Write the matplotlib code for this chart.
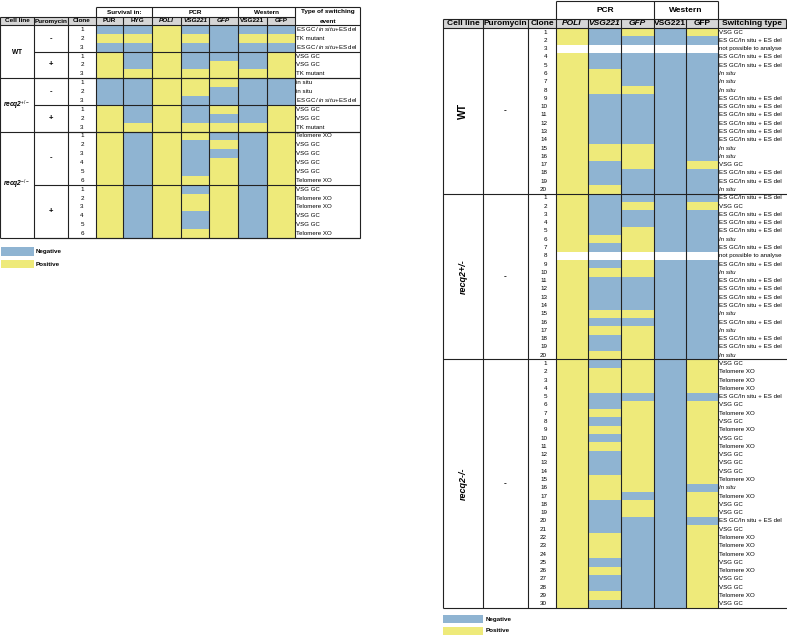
import numpy as np
import matplotlib
matplotlib.use("Agg")
import matplotlib.pyplot as plt
from matplotlib.colors import ListedColormap
from matplotlib.patches import Rectangle

plt.rcParams["font.family"] = ["Liberation Sans", "DejaVu Sans"]
plt.rcParams["mathtext.fontset"] = "custom"
plt.rcParams["mathtext.rm"] = "Liberation Sans"
plt.rcParams["mathtext.it"] = "Liberation Sans:italic"
plt.rcParams["mathtext.bf"] = "Liberation Sans:bold"
plt.rcParams["mathtext.bfit"] = "Liberation Sans:bold:italic"

BLUE = "#8fb4d2"
YELLOW = "#eeea7a"
GRAY = "#d6d6d6"
LINE = "#222222"

# ---------------- left table data (N = negative, P = positive) ----------------
left_cols = ["PUR", "HYG", "POLI", "VSG221", "GFP", "VSG221", "GFP"]
left_groups = ["WT", "recq2+/-", "recq2-/-"]
left_puro = ["-", "+", "-", "+", "-", "+"]
left_clones = [1, 2, 3, 1, 2, 3, 1, 2, 3, 1, 2, 3,
               1, 2, 3, 4, 5, 6, 1, 2, 3, 4, 5, 6]
left_results = [
    "NNPNNNN", "PPPPNPP", "NNPNNNN",
    "PNPNNNP", "PNPNPNP", "PPPPPPP",
    "NNPPPNN", "NNPPNNN", "NNPNNNN",
    "PNPNPNP", "PNPNNNP", "PPPPPPP",
    "PNPPNNP", "PNPNPNP", "PNPNNNP", "PNPNPNP", "PNPNPNP", "PNPPPNP",
    "PNPNPNP", "PNPPPNP", "PNPPPNP", "PNPNPNP", "PNPNPNP", "PNPPPNP",
]
ES_L = r"ES GC/ $\mathit{in\ situ}$+ES del"
left_types = [ES_L, "TK mutant", ES_L, "VSG GC", "VSG GC", "TK mutant",
              "in situ", "in situ", ES_L, "VSG GC", "VSG GC", "TK mutant",
              "Telomere XO", "VSG GC", "VSG GC", "VSG GC", "VSG GC", "Telomere XO",
              "VSG GC", "Telomere XO", "Telomere XO", "VSG GC", "VSG GC", "Telomere XO"]

# ---------------- right table data ----------------
right_cols = ["POLI", "VSG221", "GFP", "VSG221", "GFP"]
right_groups = ["WT", "recq2+/-", "recq2-/-"]
right_sizes = [20, 20, 30]
right_results = [
    # WT
    "PNPNP", "PNNNN", "-----", "PNNNN", "PNNNN", "PPNNN", "PPNNN", "PPPNN",
    "PNNNN", "PNNNN", "PNNNN", "PNNNN", "PNNNN", "PNNNN", "PPPNN", "PPPNN",
    "PNPNP", "PNNNN", "PNNNN", "PPNNN",
    # recq2+/-
    "PNNNN", "PNPNP", "PNNNN", "PNNNN", "PNPNN", "PPPNN", "PNPNN", "-----",
    "PNPNN", "PPPNN", "PNNNN", "PNNNN", "PNNNN", "PNNNN", "PPPNN", "PNNNN",
    "PPPNN", "PNPNN", "PNPNN", "PPPNN",
    # recq2-/-
    "PNPNP", "PPPNP", "PPPNP", "PPPNP", "PNNNN", "PNPNP", "PPPNP", "PNPNP",
    "PPPNP", "PNPNP", "PPPNP", "PNPNP", "PNPNP", "PNPNP", "PPPNP", "PPPNN",
    "PPNNP", "PNPNP", "PNPNP", "PNNNN", "PNNNP", "PPNNP", "PPNNP", "PPNNP",
    "PNNNP", "PPNNP", "PNNNP", "PNNNP", "PPNNP", "PNNNP",
]
ES, IS, VG, TX, NA = "ES GC/In situ + ES del", "In situ", "VSG GC", "Telomere XO", "not possible to analyse"
right_types = [
    VG, ES, NA, ES, ES, IS, IS, IS, ES, ES, ES, ES, ES, ES, IS, IS, VG, ES, ES, IS,
    ES, VG, ES, ES, ES, IS, ES, NA, ES, IS, ES, ES, ES, ES, IS, ES, IS, ES, ES, IS,
    VG, TX, TX, TX, ES, VG, TX, VG, TX, VG, TX, VG, VG, VG, TX, IS, TX, VG, VG, ES,
    VG, TX, TX, TX, VG, TX, VG, VG, TX, VG,
]


def to_matrix(rows):
    m = np.array([[np.nan if c == "-" else (1.0 if c == "P" else 0.0) for c in r] for r in rows])
    return np.ma.masked_invalid(m)


cmap = ListedColormap([BLUE, YELLOW])

fig = plt.figure(figsize=(7.87, 6.36), dpi=100)
ax = fig.add_axes([0, 0, 1, 1])
ax.set_xlim(0, 787)
ax.set_ylim(636, 0)
ax.axis("off")


def hline(y, x0, x1, lw=0.8):
    ax.plot([x0, x1], [y, y], color=LINE, lw=lw, solid_capstyle="butt")


def vline(x, y0, y1, lw=0.8):
    ax.plot([x, x], [y0, y1], color=LINE, lw=lw, solid_capstyle="butt")


# ================= LEFT TABLE =================
lx = [0, 34, 68, 96, 123, 152, 181, 209, 238, 267, 295, 360]
l_top, l_mid, l_hdr = 7, 17, 25
l_h = (238 - l_hdr) / len(left_results)
ly = l_hdr + l_h * np.arange(len(left_results) + 1)

ax.add_patch(Rectangle((lx[0], l_mid), lx[10] - lx[0], l_hdr - l_mid, color=GRAY, lw=0))
ax.pcolormesh(lx[3:11], ly, to_matrix(left_results), cmap=cmap, vmin=0, vmax=1)

fs_h = 4.6
for (a, b, t) in [(3, 5, "Survival in:"), (5, 8, "PCR"), (8, 10, "Western")]:
    ax.text((lx[a] + lx[b]) / 2, (l_top + l_mid) / 2, t, ha="center", va="center",
            fontsize=fs_h, fontweight="bold")
ax.text((lx[10] + lx[11]) / 2, 12, "Type of switching", ha="center", va="center",
        fontsize=fs_h, fontweight="bold")
ax.text((lx[10] + lx[11]) / 2, 21.5, "event", ha="center", va="center",
        fontsize=fs_h, fontweight="bold")
for i, t in enumerate(["Cell line", "Puromycin", "Clone"]):
    ax.text((lx[i] + lx[i + 1]) / 2, (l_mid + l_hdr) / 2, t, ha="center", va="center",
            fontsize=fs_h, fontweight="bold")
for j, t in enumerate(left_cols):
    ital = "italic" if j in (2, 3, 4) else "normal"
    ax.text((lx[j + 3] + lx[j + 4]) / 2, (l_mid + l_hdr) / 2, t, ha="center", va="center",
            fontsize=fs_h, fontweight="bold", fontstyle=ital)

for i, (c, t) in enumerate(zip(left_clones, left_types)):
    yc = (ly[i] + ly[i + 1]) / 2
    ax.text(82, yc, str(c), ha="center", va="center", fontsize=4.5)
    ax.text(296, yc, t, ha="left", va="center", fontsize=4.4)

# group labels
left_group_rows = [(0, 6), (6, 12), (12, 24)]
left_group_txt = [r"$\mathbf{WT}$", r"$\mathbfit{recq2}^{+/-}$", r"$\mathbfit{recq2}^{-/-}$"]
for (a, b), t in zip(left_group_rows, left_group_txt):
    ax.text(17, (ly[a] + ly[b]) / 2, t, ha="center", va="center", fontsize=4.8)
    hline(ly[b], lx[0], lx[11])
sub_rows = [(0, 3), (3, 6), (6, 9), (9, 12), (12, 18), (18, 24)]
for (a, b), p in zip(sub_rows, left_puro):
    ax.text(51, (ly[a] + ly[b]) / 2, p, ha="center", va="center", fontsize=5.5, fontweight="bold")
    hline(ly[b], lx[1], lx[11])

hline(l_top, lx[3], lx[11])
hline(l_mid, lx[0], lx[10])
hline(l_hdr, lx[0], lx[11])
for k, x in enumerate(lx):
    y0 = l_top if k in (3, 5, 8, 10, 11) else l_mid
    vline(x, y0, ly[-1])

# left legend
ax.add_patch(Rectangle((1, 247), 33, 9, color=BLUE, lw=0))
ax.add_patch(Rectangle((1, 260), 33, 8, color=YELLOW, lw=0))
ax.text(36, 251.5, "Negative", va="center", fontsize=4.5, fontweight="bold")
ax.text(36, 264, "Positive", va="center", fontsize=4.5, fontweight="bold")

# ================= RIGHT TABLE =================
rx = [443, 483, 528, 556, 588, 621, 654, 686, 718, 786]
r_top, r_mid, r_hdr, r_bot = 1, 19, 28, 608
r_h = (r_bot - r_hdr) / len(right_results)
ry = r_hdr + r_h * np.arange(len(right_results) + 1)

ax.add_patch(Rectangle((rx[0], r_mid), rx[-1] - rx[0], r_hdr - r_mid, color=GRAY, lw=0))
ax.pcolormesh(rx[3:9], ry, to_matrix(right_results), cmap=cmap, vmin=0, vmax=1)

fs_r = 6
ax.text((rx[3] + rx[6]) / 2, (r_top + r_mid) / 2, "PCR", ha="center", va="center",
        fontsize=fs_r, fontweight="bold")
ax.text((rx[6] + rx[8]) / 2, (r_top + r_mid) / 2, "Western", ha="center", va="center",
        fontsize=fs_r, fontweight="bold")
for i, t in enumerate(["Cell line", "Puromycin", "Clone"]):
    ax.text((rx[i] + rx[i + 1]) / 2, (r_mid + r_hdr) / 2, t, ha="center", va="center",
            fontsize=fs_r, fontweight="bold")
for j, t in enumerate(right_cols):
    ital = "italic" if j in (0, 1, 2) else "normal"
    ax.text((rx[j + 3] + rx[j + 4]) / 2, (r_mid + r_hdr) / 2, t, ha="center", va="center",
            fontsize=fs_r, fontweight="bold", fontstyle=ital)
ax.text((rx[8] + rx[9]) / 2, (r_mid + r_hdr) / 2, "Switching type", ha="center", va="center",
        fontsize=fs_r, fontweight="bold")

row = 0
for g, n in zip(right_groups, right_sizes):
    for c in range(1, n + 1):
        yc = (ry[row] + ry[row + 1]) / 2
        ax.text(547, yc, str(c), ha="right", va="center", fontsize=4.5)
        t = right_types[row]
        st = "italic" if t == IS else "normal"
        ax.text(719, yc, t, ha="left", va="center", fontsize=4.4, fontstyle=st)
        row += 1
    y0, y1 = ry[row - n], ry[row]
    ax.text(463, (y0 + y1) / 2, g, ha="center", va="center", rotation=90,
            fontsize=7.5 if g == "WT" else 6.5, fontweight="bold",
            fontstyle="normal" if g == "WT" else "italic")
    ax.text(505, (y0 + y1) / 2, "-", ha="center", va="center", fontsize=6, fontweight="bold")
    hline(y1, rx[0], 787)

hline(r_top, rx[3], rx[8])
hline(r_mid, rx[0], rx[9])
hline(r_hdr, rx[0], 787)
for k, x in enumerate(rx[:-1]):
    y0 = r_top if k in (3, 6, 8) else r_mid
    vline(x, y0, r_bot)
vline(rx[9], r_mid, r_hdr)

# right legend
ax.add_patch(Rectangle((443, 615), 40, 8, color=BLUE, lw=0))
ax.add_patch(Rectangle((443, 627), 40, 8, color=YELLOW, lw=0))
ax.text(486, 619, "Negative", va="center", fontsize=4.5, fontweight="bold")
ax.text(486, 631, "Positive", va="center", fontsize=4.5, fontweight="bold")

fig.savefig("out.png", dpi=100)
